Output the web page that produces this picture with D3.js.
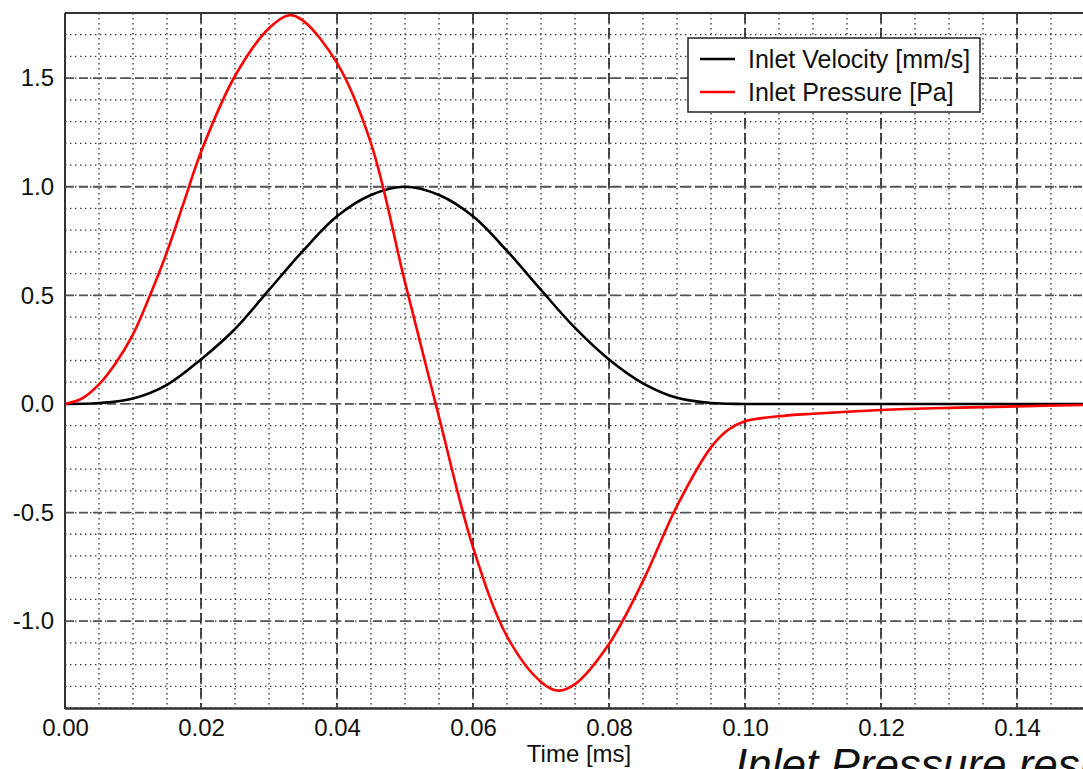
<!DOCTYPE html>
<html>
  <head>
    <meta charset="utf-8">
    <script src="https://d3js.org/d3.v7.min.js"></script>
    <style>
body { margin: 0; background: #fff; }
text { font-family: "Liberation Sans", Arial, sans-serif; fill: #111; }
    </style>
  </head>
  <body>
    <script>
// values
var velT = [0, 0.005, 0.01, 0.015, 0.02, 0.025, 0.03, 0.035, 0.04, 0.045, 0.05,
            0.055, 0.06, 0.065, 0.07, 0.075, 0.08, 0.085, 0.09, 0.095, 0.1, 0.11, 0.13, 0.15];
var velocity = [0, 0.004, 0.025, 0.088, 0.205, 0.345, 0.525, 0.705, 0.864, 0.962, 1.0,
                0.962, 0.864, 0.705, 0.525, 0.35, 0.205, 0.095, 0.028, 0.004, 0, 0, 0, 0];

var presT = [0, 0.0025, 0.005, 0.0075, 0.01, 0.0125, 0.015, 0.0175, 0.02, 0.025, 0.03, 0.033,
             0.035, 0.04, 0.045, 0.05, 0.055, 0.06, 0.065, 0.07, 0.0725, 0.075, 0.08, 0.085,
             0.09, 0.095, 0.0975, 0.1, 0.105, 0.11, 0.12, 0.13, 0.14, 0.15];
var pressure = [0, 0.025, 0.09, 0.19, 0.32, 0.5, 0.7, 0.93, 1.16, 1.51, 1.73, 1.79,
                1.765, 1.57, 1.2, 0.56, -0.06, -0.66, -1.07, -1.28, -1.32, -1.29, -1.105, -0.815,
                -0.47, -0.2, -0.12, -0.08, -0.057, -0.045, -0.028, -0.018, -0.011, -0.005];

var xTicks = [0, 0.02, 0.04, 0.06, 0.08, 0.10, 0.12, 0.14];
var yTicks = [-1.0, -0.5, 0.0, 0.5, 1.0, 1.5];
var seriesNames = ["Inlet Velocity [mm/s]", "Inlet Pressure [Pa]"];
var seriesColors = ["#000000", "#ff0000"];

var W = 1083, H = 769;
var mLeft = 65, mTop = 13, mBottom = 708, mRight = 1085;

var svg = d3.select("body").append("svg").attr("width", W).attr("height", H);

var x = d3.scaleLinear().domain([0, 0.15]).range([mLeft, mRight]);
var y = d3.scaleLinear().domain([-1.4, 1.8]).range([mBottom, mTop]);

var grid = svg.append("g");
// minor grid
d3.range(0, 31).forEach(function (k) {
	var t = k * 0.005;
	grid.append("line").attr("x1", x(t)).attr("x2", x(t)).attr("y1", mTop).attr("y2", mBottom)
		.attr("stroke", "#333").attr("stroke-width", 1.3).attr("stroke-dasharray", "1.4,3.6");
});
d3.range(-14, 18).forEach(function (k) {
	var v = k / 10;
	grid.append("line").attr("x1", mLeft).attr("x2", W).attr("y1", y(v)).attr("y2", y(v))
		.attr("stroke", "#333").attr("stroke-width", 1.3).attr("stroke-dasharray", "1.4,3.6");
});
// major grid
xTicks.forEach(function (t) {
	grid.append("line").attr("x1", x(t)).attr("x2", x(t)).attr("y1", mTop).attr("y2", mBottom)
		.attr("stroke", "#222").attr("stroke-width", 1.6).attr("stroke-dasharray", "10,5");
});
yTicks.forEach(function (v) {
	grid.append("line").attr("x1", mLeft).attr("x2", W).attr("y1", y(v)).attr("y2", y(v))
		.attr("stroke", "#555").attr("stroke-width", 1.8).attr("stroke-dasharray", "9,5");
});

// curves
var line = d3.line()
	.x(function (d) { return x(d[0]); })
	.y(function (d) { return y(d[1]); })
	.curve(d3.curveCatmullRom.alpha(0.5));

svg.append("path").datum(d3.zip(velT, velocity))
	.attr("d", line).attr("fill", "none").attr("stroke", seriesColors[0]).attr("stroke-width", 2.6);
svg.append("path").datum(d3.zip(presT, pressure))
	.attr("d", line).attr("fill", "none").attr("stroke", seriesColors[1]).attr("stroke-width", 2.6);

// frame
svg.append("line").attr("x1", mLeft).attr("x2", W).attr("y1", mTop).attr("y2", mTop)
	.attr("stroke", "#333").attr("stroke-width", 2);
svg.append("line").attr("x1", mLeft).attr("x2", mLeft).attr("y1", mTop).attr("y2", mBottom + 1)
	.attr("stroke", "#333").attr("stroke-width", 2);
svg.append("line").attr("x1", mLeft).attr("x2", W).attr("y1", mBottom + 0.5).attr("y2", mBottom + 0.5)
	.attr("stroke", "#333").attr("stroke-width", 2.5);

// axes labels
var xAxis = d3.axisBottom(x).tickValues(xTicks).tickSize(0).tickPadding(10)
	.tickFormat(function (d) { return d.toFixed(2); });
var gx = svg.append("g").attr("transform", "translate(0," + mBottom + ")").call(xAxis);
gx.select(".domain").remove();
gx.selectAll("text").style("font-size", "24px").attr("dy", "0.71em").attr("y", 11);

var yAxis = d3.axisLeft(y).tickValues(yTicks).tickSize(0).tickPadding(11)
	.tickFormat(function (d) { return d.toFixed(1); });
var gy = svg.append("g").attr("transform", "translate(" + mLeft + ",0)").call(yAxis);
gy.select(".domain").remove();
gy.selectAll("text").style("font-size", "24px");

svg.append("text").attr("x", 579).attr("y", 762).attr("text-anchor", "middle")
	.style("font-size", "24px").text("Time [ms]");

svg.append("text").attr("x", 735).attr("y", 780)
	.style("font-size", "44px").style("font-style", "italic").text("Inlet Pressure response");

// legend
var lg = svg.append("g");
lg.append("rect").attr("x", 688).attr("y", 38).attr("width", 292).attr("height", 74)
	.attr("fill", "#fff").attr("stroke", "#222").attr("stroke-width", 1.5);
seriesNames.forEach(function (name, i) {
	var yy = 59 + i * 33;
	lg.append("line").attr("x1", 700).attr("x2", 735).attr("y1", yy).attr("y2", yy)
		.attr("stroke", seriesColors[i]).attr("stroke-width", 2.6);
	lg.append("text").attr("x", 748).attr("y", yy).attr("dy", "0.35em")
		.style("font-size", "25px").text(name);
});
    </script>
  </body>
</html>
